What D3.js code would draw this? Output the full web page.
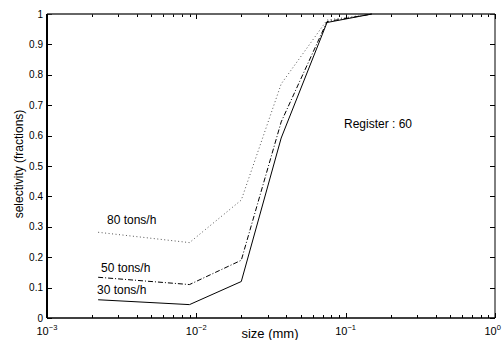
<!DOCTYPE html>
<html>
<head>
<meta charset="utf-8">
<script src="https://cdn.jsdelivr.net/npm/d3@7"></script>
<style>
  body { margin: 0; background: white; }
  text { font-family: "Liberation Sans", Arial, sans-serif; }
</style>
</head>
<body>
<div id="container"></div>
<script>
let w = 502;
let h = 340;

// data
let sizes = [0.0022, 0.009, 0.02, 0.037, 0.075, 0.15];
let sel30 = [0.06, 0.044, 0.12, 0.592, 0.972, 1.0];
let sel50 = [0.134, 0.11, 0.19, 0.645, 0.975, 1.0];
let sel80 = [0.282, 0.248, 0.388, 0.77, 0.98, 1.0];
let seriesNames = ["30 tons/h", "50 tons/h", "80 tons/h"];
let yTicks = [0, 0.1, 0.2, 0.3, 0.4, 0.5, 0.6, 0.7, 0.8, 0.9, 1];
let xDecades = [-3, -2, -1, 0];

let padL = 47, padR = 495, padT = 14, padB = 318;

let viz = d3.select("#container")
  .append("svg")
    .attr("width", w)
    .attr("height", h)
    .style("background-color", "white");

let xScale = d3.scaleLog().domain([1e-3, 1]).range([padL, padR]);
let yScale = d3.scaleLinear().domain([0, 1]).range([padB, padT]);

// minor + major log ticks
let minorTicks = [];
for (let e = -3; e < 0; e++) {
  for (let m = 2; m <= 9; m++) minorTicks.push(m * Math.pow(10, e));
}
let majorTicks = xDecades.map(d => Math.pow(10, d));

let tickG = viz.append("g").attr("stroke", "black").attr("stroke-width", 1);
minorTicks.forEach(function(t){
  let x = Math.round(xScale(t)) + 0.5;
  tickG.append("line").attr("x1", x).attr("x2", x).attr("y1", padB).attr("y2", padB - 3);
  tickG.append("line").attr("x1", x).attr("x2", x).attr("y1", padT).attr("y2", padT + 3);
});
majorTicks.forEach(function(t){
  let x = Math.round(xScale(t)) + 0.5;
  tickG.append("line").attr("x1", x).attr("x2", x).attr("y1", padB).attr("y2", padB - 5);
  tickG.append("line").attr("x1", x).attr("x2", x).attr("y1", padT).attr("y2", padT + 5);
});
yTicks.forEach(function(t){
  let y = Math.round(yScale(t)) + 0.5;
  tickG.append("line").attr("x1", padL).attr("x2", padL + 5).attr("y1", y).attr("y2", y);
  tickG.append("line").attr("x1", padR).attr("x2", padR - 5).attr("y1", y).attr("y2", y);
});

// frame
viz.append("line").attr("x1", padL).attr("x2", padR).attr("y1", padB).attr("y2", padB)
  .attr("stroke", "black").attr("stroke-width", 1.5);
viz.append("line").attr("x1", padL).attr("x2", padR).attr("y1", padT).attr("y2", padT)
  .attr("stroke", "#333").attr("stroke-width", 1.5);
viz.append("line").attr("x1", padL).attr("x2", padL).attr("y1", padT).attr("y2", padB)
  .attr("stroke", "black").attr("stroke-width", 2);
viz.append("line").attr("x1", padR).attr("x2", padR).attr("y1", padT).attr("y2", padB)
  .attr("stroke", "black").attr("stroke-width", 1);

// y tick labels
viz.selectAll(".ylab").data(yTicks).enter().append("text")
  .attr("class", "ylab")
  .attr("x", padL - 4)
  .attr("y", d => yScale(d) + 3.5)
  .attr("text-anchor", "end")
  .attr("font-size", 10)
  .text(d => d3.format("")(d));

// x tick labels 10^n
let xl = viz.selectAll(".xlab").data(xDecades).enter().append("text")
  .attr("class", "xlab")
  .attr("x", d => xScale(Math.pow(10, d)) - 10.5)
  .attr("y", padB + 17)
  .attr("font-size", 11);
xl.append("tspan").text("10");
xl.append("tspan").attr("dy", -5).attr("font-size", 7.5).text(d => d == 0 ? "0" : "\u2212" + Math.abs(d));

// axis titles
viz.append("text").attr("x", 270).attr("y", 338).attr("text-anchor", "middle")
  .attr("font-size", 13).text("size (mm)");
viz.append("text").attr("transform", "translate(23,164) rotate(-90)")
  .attr("text-anchor", "middle").attr("font-size", 12).text("selectivity (fractions)");

// lines
let line = d3.line().x((d, i) => xScale(sizes[i])).y(d => yScale(d));
viz.append("path").attr("d", line(sel80)).attr("fill", "none")
  .attr("stroke", "#555").attr("stroke-width", 1).attr("stroke-dasharray", "1,2.5");
viz.append("path").attr("d", line(sel50)).attr("fill", "none")
  .attr("stroke", "black").attr("stroke-width", 1).attr("stroke-dasharray", "5,2,1,2");
viz.append("path").attr("d", line(sel30)).attr("fill", "none")
  .attr("stroke", "black").attr("stroke-width", 1);

// series labels
let labelX = [97, 101, 107];
let labelY = [294, 272, 224];
seriesNames.forEach(function(n, i){
  viz.append("text").attr("x", labelX[i]).attr("y", labelY[i])
    .attr("font-size", 12).text(n);
});

viz.append("text").attr("x", 344).attr("y", 128).attr("font-size", 12).text("Register : 60");
</script>
</body>
</html>
